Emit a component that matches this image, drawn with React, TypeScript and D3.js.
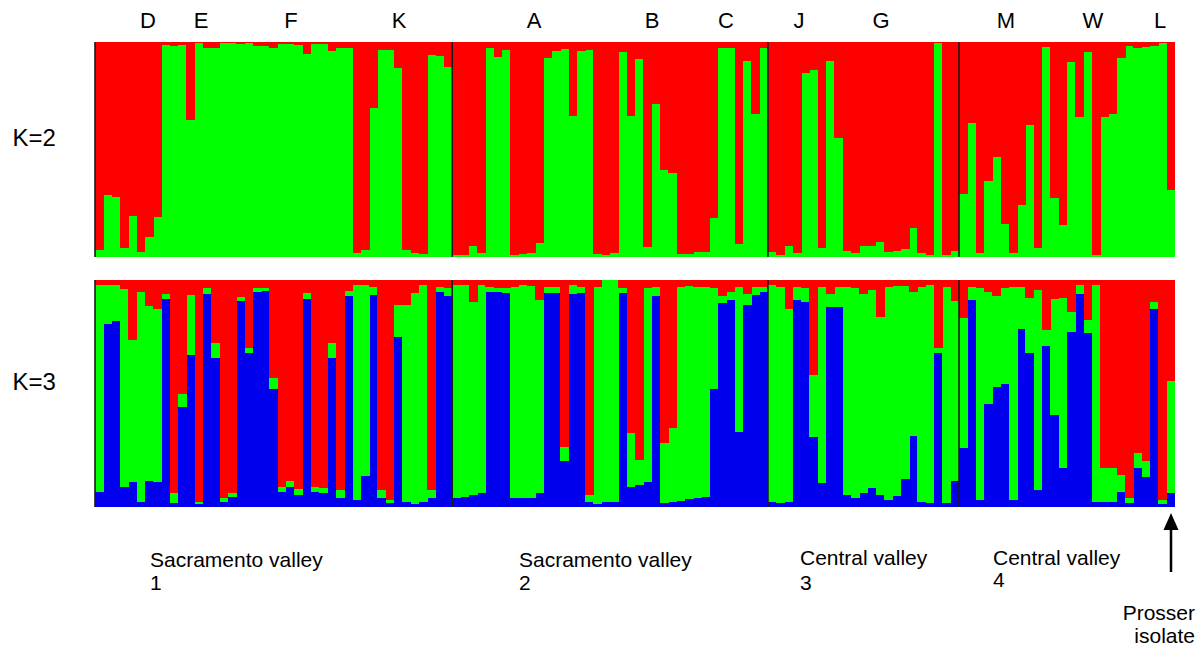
import React from "react";
import * as d3 from "d3";

// K=2: green (bottom) membership per individual; red = 1 - green
const k2Green = [
  0.033, 0.288, 0.281, 0.04, 0.191, 0.025, 0.095, 0.184, 0.986, 0.981,
  0.986, 0.637, 0.994, 0.974, 0.974, 0.994, 0.994, 0.989, 0.994, 0.983,
  0.981, 0.974, 0.989, 0.989, 0.986, 0.944, 0.989, 0.989, 0.96, 0.971,
  0.971, 0.017, 0.033, 0.695, 0.963, 0.963, 0.877, 0.033, 0.017, 0.012,
  0.94, 0.936, 0.882, 0.009, 0.009, 0.053, 0.017, 0.974, 0.929, 0.963,
  0.009, 0.012, 0.017, 0.064, 0.927, 0.958, 0.967, 0.657, 0.96, 0.963,
  0.012, 0.009, 0.017, 0.955, 0.657, 0.919, 0.045, 0.71, 0.405, 0.389,
  0.014, 0.014, 0.022, 0.022, 0.183, 0.971, 0.971, 0.06, 0.913, 0.665,
  0.971, 0.022, 0.009, 0.051, 0.017, 0.857, 0.87, 0.04, 0.913, 0.555,
  0.028, 0.017, 0.051, 0.051, 0.071, 0.022, 0.028, 0.036, 0.133, 0.017,
  0.009, 0.994, 0.009, 0.028, 0.293, 0.622, 0.017, 0.355, 0.467, 0.153,
  0.017, 0.242, 0.614, 0.04, 0.978, 0.273, 0.149, 0.905, 0.653, 0.955,
  0.009, 0.653, 0.664, 0.927, 0.983, 0.974, 0.978, 0.981, 0.994, 0.312,
];

// K=3: blue (bottom) and green (middle) memberships; red = remainder (top)
const k3Blue = [
  0.068, 0.805, 0.819, 0.09, 0.112, 0.023, 0.115, 0.112, 0.916, 0.016,
  0.442, 0.67, 0.012, 0.938, 0.658, 0.023, 0.046, 0.909, 0.677, 0.949,
  0.952, 0.52, 0.068, 0.09, 0.053, 0.916, 0.068, 0.06, 0.655, 0.038,
  0.931, 0.031, 0.137, 0.934, 0.038, 0.016, 0.75, 0.023, 0.012, 0.023,
  0.041, 0.949, 0.931, 0.041, 0.046, 0.053, 0.06, 0.949, 0.946, 0.941,
  0.038, 0.038, 0.041, 0.06, 0.941, 0.941, 0.203, 0.937, 0.941, 0.023,
  0.012, 0.023, 0.023, 0.941, 0.09, 0.097, 0.112, 0.931, 0.016, 0.023,
  0.026, 0.035, 0.041, 0.046, 0.518, 0.897, 0.912, 0.332, 0.89, 0.934,
  0.949, 0.023, 0.016, 0.023, 0.912, 0.905, 0.31, 0.104, 0.883, 0.883,
  0.053, 0.041, 0.06, 0.082, 0.053, 0.031, 0.05, 0.123, 0.314, 0.023,
  0.016, 0.677, 0.016, 0.115, 0.261, 0.912, 0.031, 0.452, 0.53, 0.54,
  0.031, 0.784, 0.677, 0.075, 0.711, 0.405, 0.173, 0.769, 0.937, 0.765,
  0.023, 0.023, 0.023, 0.068, 0.016, 0.17, 0.134, 0.872, 0.015, 0.06,
];
const k3Green = [
  0.91, 0.173, 0.159, 0.871, 0.624, 0.925, 0.772, 0.761, 0.021, 0.044,
  0.054, 0.264, 0.012, 0.025, 0.063, 0.018, 0.015, 0.018, 0.022, 0.015,
  0.012, 0.047, 0.022, 0.026, 0.025, 0.025, 0.022, 0.022, 0.066, 0.037,
  0.021, 0.947, 0.841, 0.037, 0.037, 0.015, 0.14, 0.866, 0.93, 0.954,
  0.034, 0.022, 0.032, 0.937, 0.932, 0.852, 0.918, 0.022, 0.018, 0.022,
  0.932, 0.94, 0.932, 0.852, 0.029, 0.029, 0.063, 0.041, 0.029, 0.029,
  0.959, 0.975, 0.975, 0.022, 0.235, 0.11, 0.852, 0.04, 0.264, 0.323,
  0.943, 0.94, 0.93, 0.925, 0.445, 0.034, 0.037, 0.639, 0.047, 0.037,
  0.022, 0.955, 0.954, 0.849, 0.059, 0.059, 0.272, 0.866, 0.054, 0.088,
  0.918, 0.922, 0.877, 0.874, 0.786, 0.94, 0.922, 0.849, 0.631, 0.947,
  0.962, 0.025, 0.954, 0.792, 0.57, 0.059, 0.932, 0.496, 0.401, 0.423,
  0.94, 0.186, 0.245, 0.881, 0.069, 0.511, 0.749, 0.091, 0.041, 0.059,
  0.954, 0.15, 0.147, 0.073, 0.022, 0.066, 0.069, 0.032, 0.016, 0.495,
];

// group boundaries (index of first individual of each region after the first)
const regionBreaks = [43, 81, 104];

const topLetters = ["D", "E", "F", "K", "A", "B", "C", "J", "G", "M", "W", "L"];
const topLetterX = [148, 201, 291, 399, 534, 652, 726, 799, 881, 1006, 1093, 1160];

const regionLine1 = ["Sacramento valley", "Sacramento valley", "Central valley", "Central valley"];
const regionLine2 = ["1", "2", "3", "4"];
const regionX = [150, 519, 800, 993];
const regionY1 = [567, 567, 565, 565];
const regionY2 = [590, 590, 590, 587];

const RED = "#ff0000";
const GREEN = "#00ff00";
const BLUE = "#0000ee";
const FONT = "'Liberation Sans', Arial, Helvetica, sans-serif";

export default function App() {
  const n = k2Green.length;
  const x = d3
    .scaleBand<number>()
    .domain(d3.range(n))
    .range([95, 1175])
    .paddingInner(0)
    .paddingOuter(0);
  const bw = x.bandwidth();
  const yTop = d3.scaleLinear().domain([0, 1]).range([257, 42]);
  const yBot = d3.scaleLinear().domain([0, 1]).range([507, 280]);

  const k3Rows = d3.range(n).map((i) => ({
    i,
    blue: k3Blue[i],
    green: k3Green[i],
    red: Math.max(0, 1 - k3Blue[i] - k3Green[i]),
  }));
  const k3Series = d3.stack<any>().keys(["blue", "green", "red"])(k3Rows);
  const k3Colors: Record<string, string> = { blue: BLUE, green: GREEN, red: RED };

  const k2Rows = d3.range(n).map((i) => ({ i, green: k2Green[i], red: 1 - k2Green[i] }));
  const k2Series = d3.stack<any>().keys(["green", "red"])(k2Rows);
  const k2Colors: Record<string, string> = { green: GREEN, red: RED };

  const lineXs = [95, ...regionBreaks.map((b) => x(b) as number)];

  return (
    <div style={{ position: "absolute", left: 0, top: 0 }}>
      <svg width={1202} height={649} style={{ display: "block", background: "#fff" }}>
        {/* K=2 panel */}
        <g>
          {k2Series.map((s) => (
            <g key={s.key} fill={k2Colors[s.key]}>
              {s.map((d, j) => (
                <rect
                  key={j}
                  x={x(j) as number}
                  y={yTop(d[1])}
                  width={bw + 0.4}
                  height={Math.max(0, yTop(d[0]) - yTop(d[1]))}
                  shapeRendering="crispEdges"
                />
              ))}
            </g>
          ))}
        </g>
        {/* K=3 panel */}
        <g>
          {k3Series.map((s) => (
            <g key={s.key} fill={k3Colors[s.key]}>
              {s.map((d, j) => (
                <rect
                  key={j}
                  x={x(j) as number}
                  y={yBot(d[1])}
                  width={bw + 0.4}
                  height={Math.max(0, yBot(d[0]) - yBot(d[1]))}
                  shapeRendering="crispEdges"
                />
              ))}
            </g>
          ))}
        </g>
        {/* region dividers */}
        {lineXs.map((lx, k) => (
          <g key={k} stroke="#1a1a1a" strokeWidth={1.6}>
            <line x1={lx} x2={lx} y1={42} y2={257} />
            <line x1={lx} x2={lx} y1={280} y2={507} />
          </g>
        ))}

        {/* population letters */}
        {topLetters.map((t, k) => (
          <text
            key={t}
            x={topLetterX[k]}
            y={28}
            textAnchor="middle"
            fontFamily={FONT}
            fontSize={22}
            fill="#000"
          >
            {t}
          </text>
        ))}

        {/* K labels */}
        <text x={12.5} y={146} fontFamily={FONT} fontSize={24} fill="#000">
          K=2
        </text>
        <text x={12.5} y={390} fontFamily={FONT} fontSize={24} fill="#000">
          K=3
        </text>

        {/* region labels */}
        {regionLine1.map((t, k) => (
          <g key={k} fontFamily={FONT} fontSize={21} fill="#000">
            <text x={regionX[k]} y={regionY1[k]}>
              {t}
            </text>
            <text x={regionX[k]} y={regionY2[k]}>
              {regionLine2[k]}
            </text>
          </g>
        ))}

        {/* arrow to Prosser isolate */}
        <line x1={1171} x2={1171} y1={572} y2={528} stroke="#000" strokeWidth={2.5} />
        <path d="M1171,513 L1178.5,530 L1163.5,530 Z" fill="#000" />
        <text x={1195} y={620} textAnchor="end" fontFamily={FONT} fontSize={21} fill="#000">
          Prosser
        </text>
        <text x={1195} y={643} textAnchor="end" fontFamily={FONT} fontSize={21} fill="#000">
          isolate
        </text>
      </svg>
    </div>
  );
}
